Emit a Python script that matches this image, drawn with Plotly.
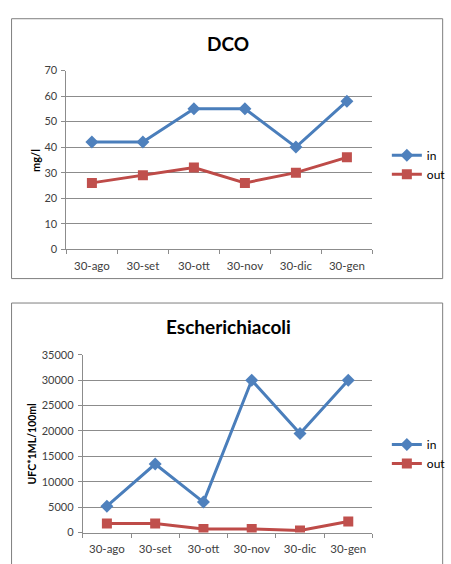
import plotly.graph_objects as go

categories = ["30-ago", "30-set", "30-ott", "30-nov", "30-dic", "30-gen"]
dco_in = [42, 42, 55, 55, 40, 58]
dco_out = [26, 29, 32, 26, 30, 36]
ecoli_in = [5200, 13500, 6000, 30000, 19500, 30000]
ecoli_out = [1800, 1800, 700, 700, 400, 2200]

W, H = 451, 564
FONT = "Lato, Liberation Sans, sans-serif"
BLUE_LINE = "#4A7EBB"
BLUE_MK = "#4F81BD"
RED_LINE = "#BE4B48"
RED_MK = "#C0504D"
GRID = "#8C8C8C"

def px(x):
    return x / W

def py(y):
    return 1 - y / H

fig = go.Figure()

def add_series(xa, ya, vals, name, lc, mc, sym, size, legend):
    fig.add_trace(go.Scatter(
        x=categories, y=vals, name=name, mode="lines+markers",
        xaxis=xa, yaxis=ya, legend=legend,
        line=dict(color=lc, width=3),
        marker=dict(color=mc, symbol=sym, size=size, line=dict(width=0)),
    ))

add_series("x", "y", dco_in, "in", BLUE_LINE, BLUE_MK, "diamond", 10, "legend")
add_series("x", "y", dco_out, "out", RED_LINE, RED_MK, "square", 10, "legend")
add_series("x2", "y2", ecoli_in, "in", BLUE_LINE, BLUE_MK, "diamond", 10, "legend2")
add_series("x2", "y2", ecoli_out, "out", RED_LINE, RED_MK, "square", 10, "legend2")

xcommon = dict(type="category", range=[-0.5, 5.5], showline=True, linecolor=GRID,
               ticks="outside", tickson="boundaries", ticklen=4, tickcolor=GRID,
               showgrid=False, tickfont=dict(size=11.5, color="#404040", family=FONT),
               ticklabelstandoff=6, fixedrange=True)
ycommon = dict(showline=True, linecolor=GRID, ticks="outside", ticklen=4, tickcolor=GRID,
               showgrid=True, gridcolor=GRID, gridwidth=1, zeroline=False, tickformat="d",
               tickfont=dict(size=11, color="#404040", family=FONT),
               ticklabelstandoff=2, fixedrange=True)

fig.update_layout(
    width=W, height=H, margin=dict(l=0, r=0, t=0, b=0),
    paper_bgcolor="white", plot_bgcolor="white",
    font=dict(family=FONT, color="#000000"),
    xaxis=dict(domain=[px(69), px(387)], anchor="y", **xcommon),
    yaxis=dict(domain=[py(248), py(65)], anchor="x", range=[0, 70], dtick=10, **ycommon),
    xaxis2=dict(domain=[px(86), px(387)], anchor="y2", **xcommon),
    yaxis2=dict(domain=[py(538), py(356)], anchor="x2", range=[0, 35000], dtick=5000, **ycommon),
    legend=dict(x=px(402), y=py(137), xanchor="left", yanchor="top", itemwidth=30,
                font=dict(size=12, family=FONT, color="#000"), tracegroupgap=7,
                bgcolor="rgba(0,0,0,0)"),
    legend2=dict(x=px(402), y=py(433), xanchor="left", yanchor="top", itemwidth=30,
                 font=dict(size=12, family=FONT, color="#000"), tracegroupgap=6,
                 bgcolor="rgba(0,0,0,0)"),
    showlegend=True,
)

# chart borders
fig.add_shape(type="rect", xref="paper", yref="paper", x0=px(12), x1=px(460),
              y0=py(278), y1=py(12), line=dict(color="#7F7F7F", width=1), layer="below")
fig.add_shape(type="rect", xref="paper", yref="paper", x0=px(12), x1=px(460),
              y0=py(580), y1=py(303), line=dict(color="#7F7F7F", width=1), layer="below")

# titles
fig.add_annotation(text="<b>DCO</b>", xref="paper", yref="paper", x=px(237), y=py(37),
                   showarrow=False, font=dict(size=19, family=FONT, color="#000"),
                   xanchor="center", yanchor="middle")
fig.add_annotation(text="<b>Escherichiacoli</b>", xref="paper", yref="paper", x=px(237), y=py(327),
                   showarrow=False, font=dict(size=19, family=FONT, color="#000"),
                   xanchor="center", yanchor="middle")
# axis titles
fig.add_annotation(text="<b>mg/l</b>", xref="paper", yref="paper", x=px(37), y=py(157),
                   showarrow=False, textangle=-90, font=dict(size=11, family=FONT, color="#000"),
                   xanchor="center", yanchor="middle")
fig.add_annotation(text="<b>UFC*1ML/100ml</b>", xref="paper", yref="paper", x=px(33), y=py(447),
                   showarrow=False, textangle=-90, font=dict(size=10.5, family=FONT, color="#000"),
                   xanchor="center", yanchor="middle")

fig.write_html("out.html")
